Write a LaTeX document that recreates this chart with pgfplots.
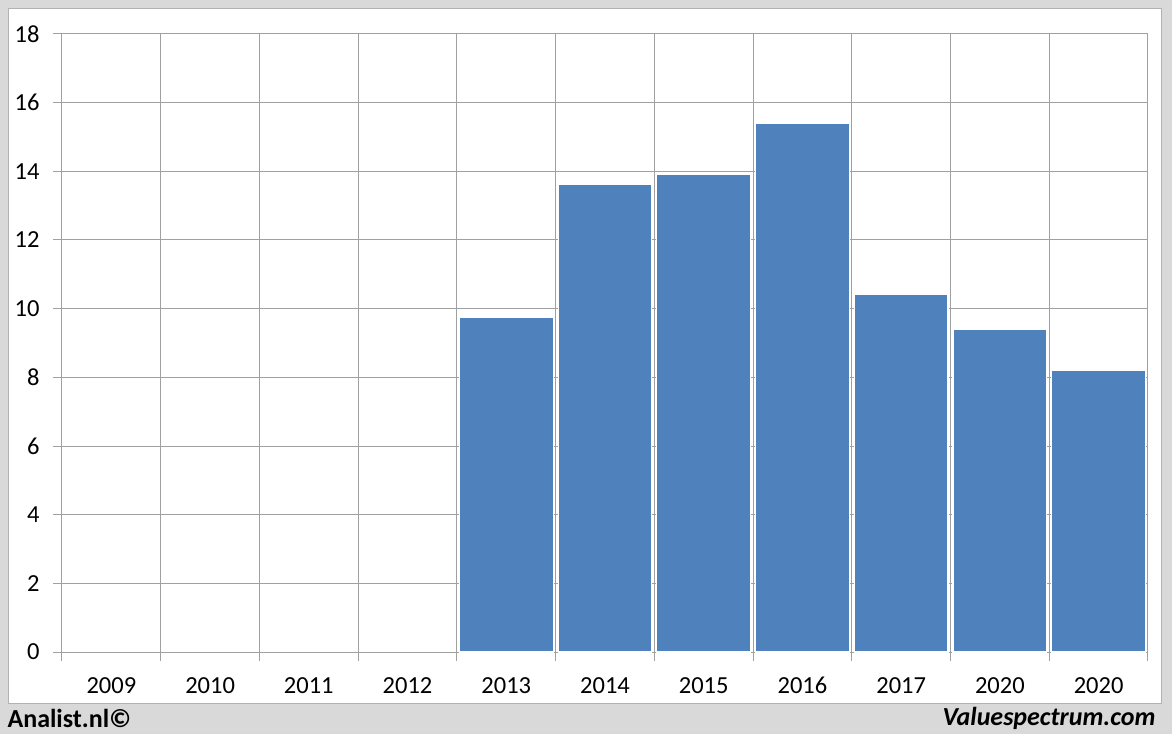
\documentclass[border=0pt]{standalone}
\usepackage{pgfplots}
\pgfplotsset{compat=1.18}
\usepackage{fontspec}
\setmainfont{Carlito}
\definecolor{barblue}{HTML}{4F81BD}
\definecolor{gridgray}{HTML}{A0A0A0}
\definecolor{bggray}{HTML}{D9D9D9}
\pgfplotstableread{
x y
4 9.76
5 13.63
6 13.92
7 15.41
8 10.43
9 9.41
10 8.19
}\datatable
\begin{document}
\begin{tikzpicture}
\useasboundingbox (0,0) rectangle (1172pt,734pt);
\fill[bggray] (0,0) rectangle (1172pt,734pt);
\fill[white] (8pt,31pt) rectangle (1161pt,726pt);
\draw[color=black!30, line width=0.8pt] (8pt,31pt) rectangle (1161pt,726pt);
\begin{axis}[
  at={(62pt,82pt)}, anchor=south west,
  scale only axis, width=1086pt, height=618pt,
  xmin=-0.5, xmax=10.5, ymin=0, ymax=18,
  ytick={0,2,...,18},
  xtick={0,...,10},
  xticklabels={2009,2010,2011,2012,2013,2014,2015,2016,2017,2020,2020},
  minor xtick={-0.5,0.5,...,10.5},
  xtick pos=bottom, ytick pos=left,
  xtick style={draw=none},
  minor x tick style={draw=gridgray, line width=1pt},
  ytick style={draw=gridgray, line width=1pt},
  tick align=outside,
  major tick length=9pt, minor tick length=9pt,
  ymajorgrids, xminorgrids,
  grid style={draw=gridgray, line width=1pt},
  axis line style={draw=gridgray, line width=1pt},
  /pgf/number format/assume math mode=true,
  ticklabel style={font=\fontsize{24.5}{28}\selectfont, text=black},
  yticklabel style={xshift=-10pt},
  xticklabel style={anchor=base, yshift=-32pt},
  ybar, bar width=0.95, bar shift=0pt,
]
\addplot[fill=barblue, draw=white, line width=1.2pt] table[x=x,y=y] {\datatable};
\end{axis}
\node[anchor=west, font=\fontsize{26}{30}\selectfont\bfseries] at (4pt,16pt) {Analist.nl©};
\node[anchor=east, font=\fontsize{26}{30}\selectfont\bfseries\itshape] at (1159pt,16pt) {Valuespectrum.com};
\end{tikzpicture}
\end{document}
